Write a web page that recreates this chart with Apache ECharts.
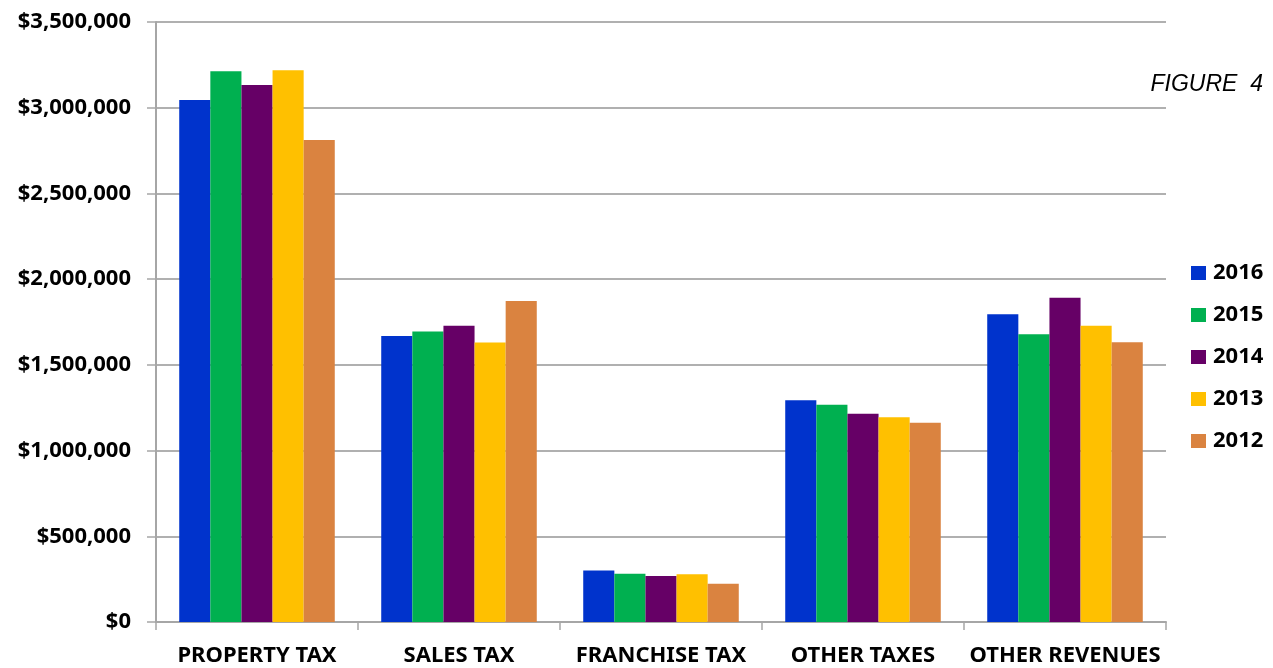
<!DOCTYPE html>
<html>
<head>
<meta charset="utf-8">
<script src="https://cdn.jsdelivr.net/npm/echarts@6/dist/echarts.min.js"></script>
<style>
html,body{margin:0;padding:0;background:#fff;}
#chart{width:1273px;height:668px;}
</style>
</head>
<body>
<div id="chart"></div>
<script>
const categories = ['PROPERTY TAX', 'SALES TAX', 'FRANCHISE TAX', 'OTHER TAXES', 'OTHER REVENUES'];
const years = ['2016', '2015', '2014', '2013', '2012'];
const v2016 = [3045000, 1669000, 301000, 1294000, 1795000];
const v2015 = [3212000, 1694000, 281000, 1268000, 1679000];
const v2014 = [3133000, 1728000, 268000, 1215000, 1891000];
const v2013 = [3218000, 1630000, 279000, 1195000, 1728000];
const v2012 = [2812000, 1873000, 223000, 1163000, 1632000];
const colors = ['#0033CC', '#00B050', '#660066', '#FFC000', '#DA8340'];
const seriesValues = [v2016, v2015, v2014, v2013, v2012];

const chart = echarts.init(document.getElementById('chart'));
const fontFam = '"Noto Sans", "DejaVu Sans", sans-serif';
chart.setOption({
  animation: false,
  backgroundColor: '#ffffff',
  color: colors,
  graphic: [{
    type: 'text', right: 10, top: 73,
    style: { text: 'FIGURE  4', font: 'italic 23px "Liberation Sans", Arial, sans-serif', fill: '#000' }
  }],
  legend: {
    orient: 'vertical', left: 1186, top: 257,
    itemWidth: 15, itemHeight: 14, itemGap: 20,
    icon: 'rect',
    textStyle: { fontFamily: fontFam, fontWeight: 'bold', fontSize: 22, color: '#000', padding: [0, 0, 0, 2] },
    data: years
  },
  grid: { left: 156, right: 107, top: 22, bottom: 46, containLabel: false },
  xAxis: {
    type: 'category', data: categories,
    axisLine: { lineStyle: { color: '#a6a6a6', width: 2 } },
    axisTick: { show: true, length: 8, lineStyle: { color: '#a6a6a6', width: 1.5 } },
    axisLabel: { margin: 23, fontFamily: fontFam, fontWeight: 'bold', fontSize: 22, color: '#000', interval: 0 }
  },
  yAxis: {
    type: 'value', min: 0, max: 3500000, interval: 500000,
    axisLine: { show: true, lineStyle: { color: '#a6a6a6', width: 2 } },
    axisTick: { show: true, length: 9, lineStyle: { color: '#a6a6a6', width: 1.5 } },
    splitLine: { lineStyle: { color: '#b0b0b0', width: 2 } },
    axisLabel: {
      margin: 25, fontFamily: fontFam, fontWeight: 'bold', fontSize: 22, color: '#000',
      formatter: v => '$' + v.toLocaleString('en-US')
    }
  },
  series: years.map((y, i) => ({
    name: y, type: 'bar', data: seriesValues[i],
    barGap: '0%', barCategoryGap: '23%',
    itemStyle: { color: colors[i] }
  }))
});
</script>
</body>
</html>
